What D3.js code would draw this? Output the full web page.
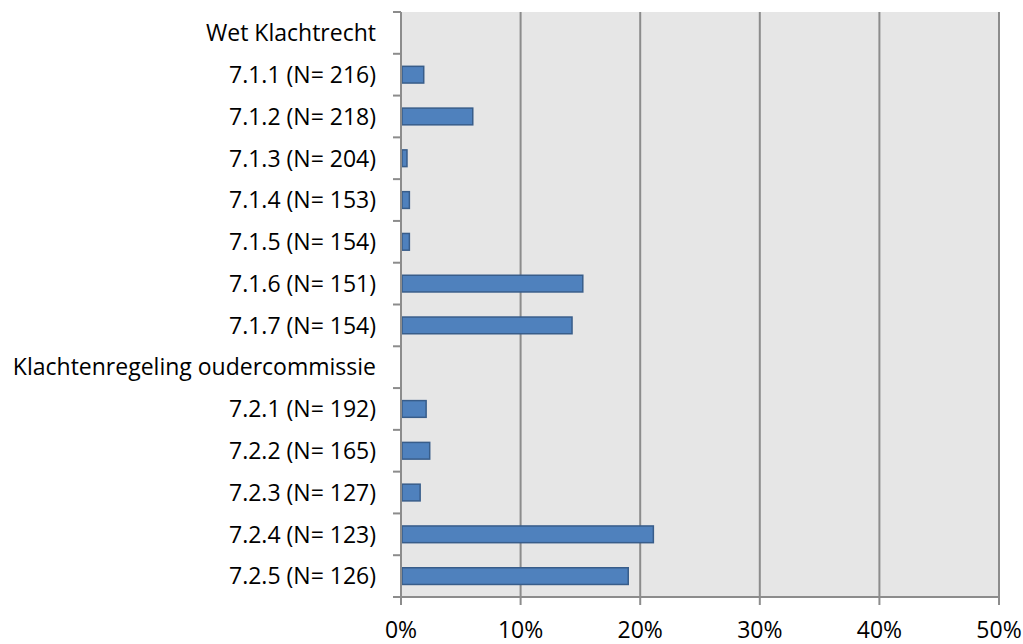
<!DOCTYPE html>
<html><head><meta charset="utf-8">
<script src="https://cdn.jsdelivr.net/npm/d3@7"></script>
<style>body{margin:0;background:#fff}svg{display:block}</style>
</head><body>
<svg id="c" width="1023" height="644"></svg>
<script>
const categories = ["Wet Klachtrecht","7.1.1 (N= 216)","7.1.2 (N= 218)","7.1.3 (N= 204)","7.1.4 (N= 153)","7.1.5 (N= 154)","7.1.6 (N= 151)","7.1.7 (N= 154)","Klachtenregeling oudercommissie","7.2.1 (N= 192)","7.2.2 (N= 165)","7.2.3 (N= 127)","7.2.4 (N= 123)","7.2.5 (N= 126)"];
const values = [null,1.9,6.0,0.5,0.7,0.7,15.2,14.3,null,2.1,2.4,1.6,21.1,19.0];
const xTicks = [0,10,20,30,40,50];

const svg = d3.select("#c");
const L = 401, R = 999, T = 12, B = 597;
const x = d3.scaleLinear().domain([0,50]).range([L,R]);
const y = d3.scaleBand().domain(categories).range([T,B]).paddingInner(0.6).paddingOuter(0.3);
const yb = d3.scaleBand().domain(categories).range([T,B]);
const font = "'Open Sans', sans-serif";

svg.append("rect").attr("x",L).attr("y",T).attr("width",R-L).attr("height",B-T).attr("fill","#e6e6e6");

svg.append("g").selectAll("line").data(xTicks.slice(1)).join("line")
  .attr("x1",d=>x(d)).attr("x2",d=>x(d)).attr("y1",T).attr("y2",B)
  .attr("stroke","#8c8c8c").attr("stroke-width",2);

svg.append("g").selectAll("rect").data(categories.map((c,i)=>({c,v:values[i]})).filter(d=>d.v!=null)).join("rect")
  .attr("x",x(0)+1).attr("y",d=>y(d.c)).attr("width",d=>x(d.v)-x(0)-1).attr("height",y.bandwidth())
  .attr("fill","#4f81bd").attr("stroke","#385d8a").attr("stroke-width",1.5);

// y axis
const ya = svg.append("g");
ya.append("line").attr("x1",L).attr("x2",L).attr("y1",T).attr("y2",B+8).attr("stroke","#8c8c8c").attr("stroke-width",2);
const bounds = categories.map(c=>yb(c)).concat([B]);
ya.selectAll("line.t").data(bounds).join("line").attr("class","t")
  .attr("x1",L-8).attr("x2",L).attr("y1",d=>d).attr("y2",d=>d).attr("stroke","#8c8c8c").attr("stroke-width",2);
ya.selectAll("text").data(categories).join("text")
  .attr("x",376).attr("y",c=>yb(c)+yb.bandwidth()/2).attr("dy","0.36em")
  .attr("text-anchor","end").attr("font-family",font).attr("font-size",23).attr("fill","#000").text(d=>d);

// x axis
const xa = svg.append("g");
xa.append("line").attr("x1",L-8).attr("x2",R).attr("y1",B).attr("y2",B).attr("stroke","#8c8c8c").attr("stroke-width",2);
xa.selectAll("line.t").data(xTicks).join("line").attr("class","t")
  .attr("x1",d=>x(d)).attr("x2",d=>x(d)).attr("y1",B).attr("y2",B+8).attr("stroke","#8c8c8c").attr("stroke-width",2);
xa.selectAll("text").data(xTicks).join("text")
  .attr("x",d=>x(d)).attr("y",638).attr("text-anchor","middle")
  .attr("font-family",font).attr("font-size",23).attr("fill","#000").text(d=>d+"%");
</script>
</body></html>
